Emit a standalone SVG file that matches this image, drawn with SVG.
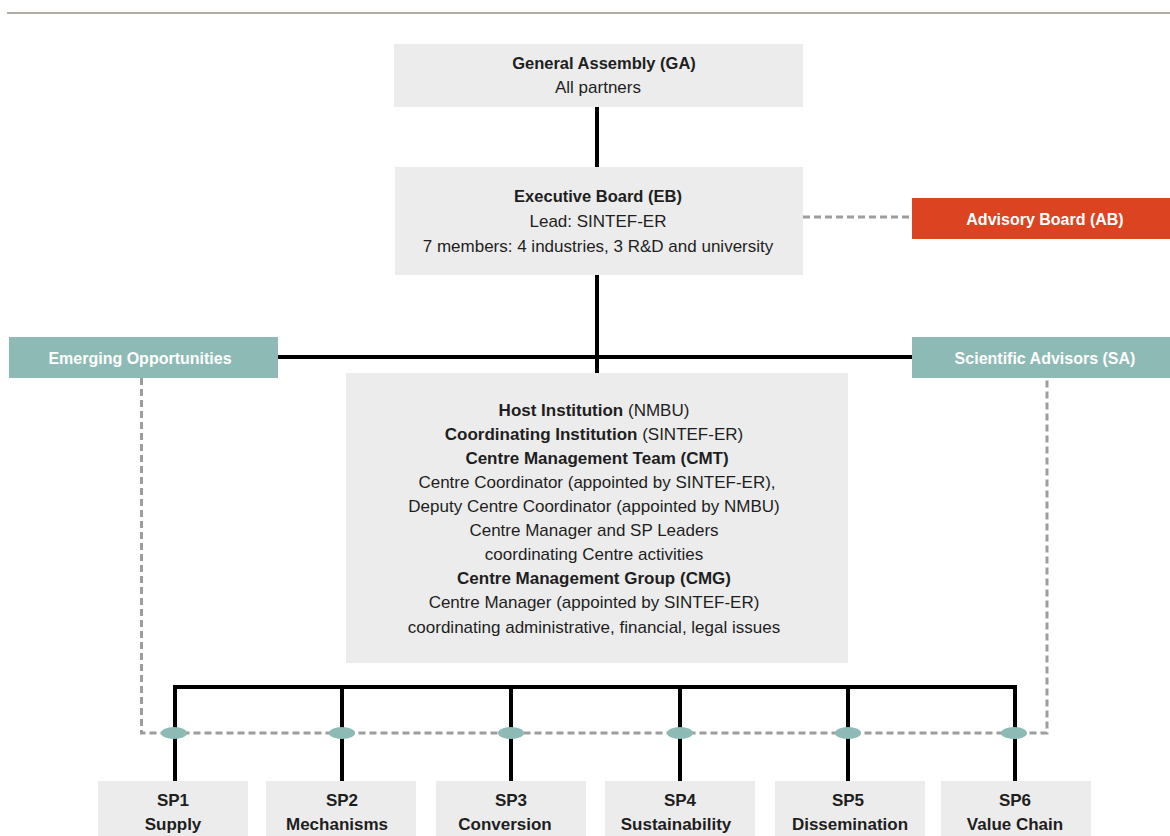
<svg xmlns="http://www.w3.org/2000/svg" width="1170" height="836" viewBox="0 0 1170 836">
<style>
.box{fill:#ececec}
.teal{fill:#8dbab4}
.red{fill:#dc4320}
text{font-family:"Liberation Sans",Arial,sans-serif;font-size:17px;fill:#1e1e1e;text-anchor:middle}
.b{font-weight:bold}
.t{font-size:16.5px}
.w{fill:#ffffff;font-weight:bold;font-size:16px}
.solid{stroke:#000;stroke-width:4;fill:none}
.dash{stroke:#9d9d9f;stroke-width:3;fill:none;stroke-dasharray:7 4}
.dot{fill:#8dbab4}
</style>
<rect x="7" y="12" width="1163" height="2" fill="#b0aca6"/>
<g id="connectors">
<line class="solid" x1="597" y1="107" x2="597" y2="167"/>
<line class="solid" x1="597" y1="275" x2="597" y2="373"/>
<line class="solid" x1="278" y1="357" x2="912" y2="357"/>
<path class="solid" d="M175,781 V687 H1015 V781"/>
<line class="solid" x1="342" y1="687" x2="342" y2="781"/>
<line class="solid" x1="511" y1="687" x2="511" y2="781"/>
<line class="solid" x1="680" y1="687" x2="680" y2="781"/>
<line class="solid" x1="848" y1="687" x2="848" y2="781"/>
<line class="dash" x1="803" y1="217" x2="912" y2="217"/>
<path class="dash" d="M141.5,378 V733 H1047 V378"/>
<ellipse class="dot" cx="174" cy="733" rx="13" ry="6"/>
<ellipse class="dot" cx="342" cy="733" rx="13" ry="6"/>
<ellipse class="dot" cx="511" cy="733" rx="13" ry="6"/>
<ellipse class="dot" cx="680" cy="733" rx="13" ry="6"/>
<ellipse class="dot" cx="848" cy="733" rx="13" ry="6"/>
<ellipse class="dot" cx="1014" cy="733" rx="13" ry="6"/>
</g>
<g id="ga">
<rect class="box" x="394" y="44" width="409" height="63"/>
<text x="604" y="69" class="b t">General Assembly (GA)</text>
<text x="598" y="93">All partners</text>
</g>
<g id="eb">
<rect class="box" x="395" y="167" width="408" height="108"/>
<text x="598" y="202" class="b t">Executive Board (EB)</text>
<text x="598" y="227">Lead: SINTEF-ER</text>
<text x="598" y="252">7 members: 4 industries, 3 R&amp;D and university</text>
</g>
<g id="ab">
<rect class="red" x="912" y="198" width="258" height="41"/>
<text x="1045" y="225" class="w">Advisory Board (AB)</text>
</g>
<g id="eo">
<rect class="teal" x="9" y="337" width="269" height="41"/>
<text x="140" y="364" class="w">Emerging Opportunities</text>
</g>
<g id="sa">
<rect class="teal" x="912" y="337" width="258" height="41"/>
<text x="1045" y="364" class="w">Scientific Advisors (SA)</text>
</g>
<g id="cmt">
<rect class="box" x="346" y="373" width="502" height="290"/>
<text x="594" y="416"><tspan class="b">Host Institution</tspan> (NMBU)</text>
<text x="594" y="440"><tspan class="b">Coordinating Institution</tspan> (SINTEF-ER)</text>
<text x="597" y="464" class="b">Centre Management Team (CMT)</text>
<text x="597" y="488">Centre Coordinator (appointed by SINTEF-ER),</text>
<text x="594" y="512">Deputy Centre Coordinator (appointed by NMBU)</text>
<text x="594" y="536">Centre Manager and SP Leaders</text>
<text x="594" y="560">coordinating Centre activities</text>
<text x="594" y="584" class="b">Centre Management Group (CMG)</text>
<text x="594" y="608">Centre Manager (appointed by SINTEF-ER)</text>
<text x="594" y="633">coordinating administrative, financial, legal issues</text>
</g>
<g id="sp1">
<rect class="box" x="98" y="781" width="150" height="55"/>
<text x="173" y="806" class="b">SP1</text>
<text x="173" y="830" class="b">Supply</text>
</g>
<g id="sp2">
<rect class="box" x="266" y="781" width="150" height="55"/>
<text x="342" y="806" class="b">SP2</text>
<text x="337" y="830" class="b">Mechanisms</text>
</g>
<g id="sp3">
<rect class="box" x="436" y="781" width="150" height="55"/>
<text x="511" y="806" class="b">SP3</text>
<text x="505" y="830" class="b">Conversion</text>
</g>
<g id="sp4">
<rect class="box" x="605" y="781" width="150" height="55"/>
<text x="680" y="806" class="b">SP4</text>
<text x="676" y="830" class="b">Sustainability</text>
</g>
<g id="sp5">
<rect class="box" x="775" y="781" width="150" height="55"/>
<text x="848" y="806" class="b">SP5</text>
<text x="850" y="830" class="b">Dissemination</text>
</g>
<g id="sp6">
<rect class="box" x="941" y="781" width="150" height="55"/>
<text x="1015" y="806" class="b">SP6</text>
<text x="1015" y="830" class="b">Value Chain</text>
</g>
</svg>
